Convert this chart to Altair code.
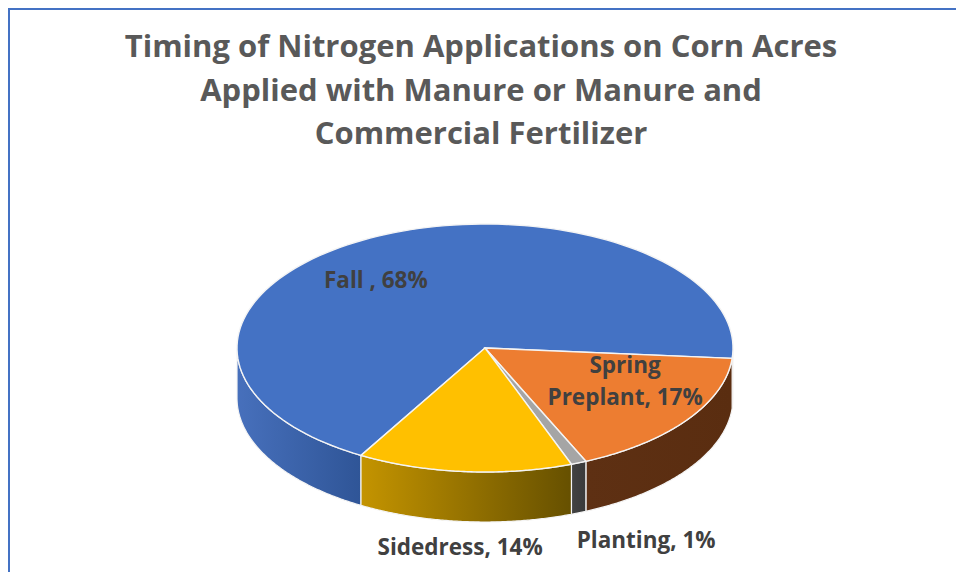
import altair as alt
import pandas as pd

# ---- data ----
categories = ["Fall", "Spring Preplant", "Planting", "Sidedress"]
percents = [68, 17, 1, 14]
label_texts = ["Fall , 68%", "Spring\nPreplant, 17%", "Planting, 1%", "Sidedress, 14%"]
title_lines = [
    "Timing of Nitrogen Applications on Corn Acres",
    "Applied with Manure or Manure and",
    "Commercial Fertilizer",
]

# ---- styles / layout ----
top_colors = ["#4472C4", "#ED7D31", "#A5A5A5", "#FFC000"]
wall_gradients = [
    ["#4770BC", "#2F5597"],
    ["#5E3013", "#5A2D10"],
    ["#424242", "#3A3A3A"],
    ["#C49400", "#665000"],
]
label_rx = [0.95, 0.693, 1.72, 1.2]
label_ry = [0.546, 0.348, 1.74, 1.676]

FONT = "Open Sans"
W, H = 948, 564          # whole chart (autosize none, padding 0)
CX, CY = 477, 340        # pie centre in chart pixels
A, B, D = 248, 124, 50   # ellipse semi-axes and wall depth
ROT = 210                # first slice start angle (deg, clockwise from 12 o'clock)
N = 120                  # steps along each arc

starts = []
acc = 0
for p in percents:
    starts.append(acc)
    acc += p

top_rows, wall_rows, label_rows = [], [], []
for i, (c, p, s) in enumerate(zip(categories, percents, starts)):
    for k in range(N + 2):
        top_rows.append({"cat": c, "pct": p, "cum": s, "k": k})
    for ps in (0, 1):
        for k in range(2 * N + 2):
            wall_rows.append({"cat": c, "pct": p, "cum": s, "pass": ps, "k": k})
    label_rows.append({"cat": c, "pct": p, "cum": s, "txt": label_texts[i],
                       "rx": label_rx[i], "ry": label_ry[i]})

top_df = pd.DataFrame(top_rows)
wall_df = pd.DataFrame(wall_rows)
label_df = pd.DataFrame(label_rows)

xs = alt.Scale(domain=[-CX, W - CX], nice=False, zero=False)
ys = alt.Scale(domain=[-(H - CY), CY], nice=False, zero=False)

# ---- side walls (one layer per slice, gradient fill) ----
wall_layers = []
for i, c in enumerate(categories):
    g = alt.LinearGradient(
        gradient="linear",
        stops=[alt.GradientStop(color=wall_gradients[i][0], offset=0),
               alt.GradientStop(color=wall_gradients[i][1], offset=1)],
        x1=0, x2=1, y1=0, y2=0,
    )
    layer = (
        alt.Chart(wall_df)
        .transform_filter(alt.datum.cat == c)
        .transform_calculate(
            a0=f"{ROT} + datum.cum * 3.6",
            a1=f"{ROT} + (datum.cum + datum.pct) * 3.6",
            lo="90 + 360 * datum.pass",
            hi="270 + 360 * datum.pass",
        )
        .transform_calculate(s="max(datum.a0, datum.lo)", e="min(datum.a1, datum.hi)")
        .transform_filter("datum.e > datum.s")
        .transform_calculate(j=f"datum.k <= {N} ? datum.k : {2 * N + 1} - datum.k")
        .transform_calculate(t=f"(datum.s + datum.j / {N} * (datum.e - datum.s)) * PI / 180")
        .transform_calculate(
            px=f"{A} * sin(datum.t)",
            py=f"{B} * cos(datum.t) - (datum.k > {N} ? {D} : 0)",
        )
        .mark_line(interpolate="linear-closed", fill=g, stroke="#F4F4F4", strokeWidth=1.2)
        .encode(
            x=alt.X("px:Q", scale=xs, axis=None),
            y=alt.Y("py:Q", scale=ys, axis=None),
            detail="pass:N",
            order=alt.Order("k:Q"),
        )
    )
    wall_layers.append(layer)

# ---- top face ----
top = (
    alt.Chart(top_df)
    .transform_calculate(t=f"({ROT} + (datum.cum + (datum.k - 1) / {N} * datum.pct) * 3.6) * PI / 180")
    .transform_calculate(
        px=f"datum.k == 0 ? 0 : {A} * sin(datum.t)",
        py=f"datum.k == 0 ? 0 : {B} * cos(datum.t)",
    )
    .mark_line(interpolate="linear-closed", stroke="#F4F4F4", strokeWidth=1.4)
    .encode(
        x=alt.X("px:Q", scale=xs, axis=None),
        y=alt.Y("py:Q", scale=ys, axis=None),
        fill=alt.Fill("cat:N", scale=alt.Scale(domain=categories, range=top_colors), legend=None),
        detail="cat:N",
        order=alt.Order("k:Q"),
    )
)

# ---- data labels ----
labels = (
    alt.Chart(label_df)
    .transform_calculate(mid=f"({ROT} + (datum.cum + datum.pct / 2) * 3.6) * PI / 180")
    .transform_calculate(
        lx=f"datum.rx * {A} * sin(datum.mid)",
        ly=f"datum.ry * {B} * cos(datum.mid)",
    )
    .mark_text(font=FONT, fontSize=22.5, fontWeight="bold", color="#404040",
               align="center", baseline="alphabetic", lineBreak="\n", lineHeight=32)
    .encode(
        x=alt.X("lx:Q", scale=xs, axis=None),
        y=alt.Y("ly:Q", scale=ys, axis=None),
        text="txt:N",
    )
)

# ---- title ----
title = (
    alt.Chart(pd.DataFrame({"t": ["\n".join(title_lines)]}))
    .mark_text(font=FONT, fontSize=31, fontWeight="bold", color="#595959",
               align="center", baseline="alphabetic", lineBreak="\n", lineHeight=43.5)
    .encode(x=alt.value(473), y=alt.value(49), text="t:N")
)

# ---- frame ----
frame_df = pd.DataFrame({"v": [0]})
top_border = alt.Chart(frame_df).mark_rule(color="#4472C4", strokeWidth=2).encode(
    x=alt.value(0), x2=alt.value(W), y=alt.value(1))
left_border = alt.Chart(frame_df).mark_rule(color="#4472C4", strokeWidth=2).encode(
    x=alt.value(1), y=alt.value(0), y2=alt.value(H))

chart = (
    alt.layer(*wall_layers, top, labels, title, top_border, left_border)
    .properties(width=W, height=H, padding=0, autosize=alt.AutoSizeParams(type="none"))
    .configure_view(stroke=None)
)

chart.save("out.html", embed_options={"renderer": "svg", "actions": False})
